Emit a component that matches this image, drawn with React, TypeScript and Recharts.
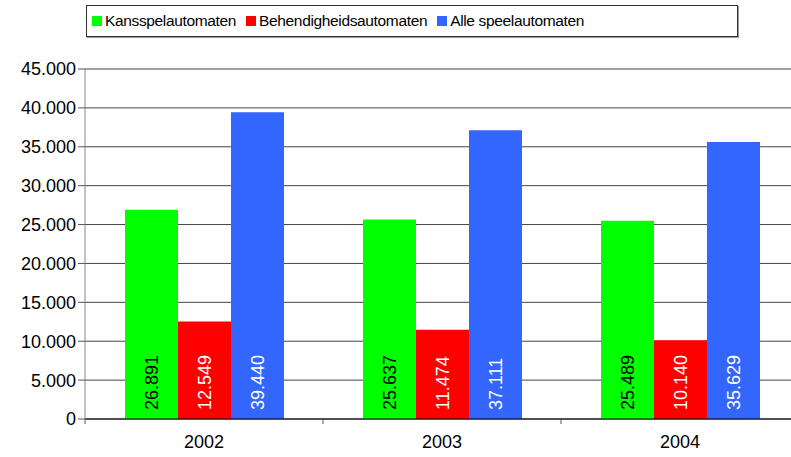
import React from "react";
import { Bar, BarChart, CartesianGrid, LabelList, XAxis, YAxis } from "recharts";

const years = ["2002", "2003", "2004"];
const kansspel = [26891, 25637, 25489];
const behendigheid = [12549, 11474, 10140];
const alle = [39440, 37111, 35629];
const yTicks = [0, 5000, 10000, 15000, 20000, 25000, 30000, 35000, 40000, 45000];

const series = [
  { key: "kansspel", name: "Kansspelautomaten", color: "#00ff00", text: "#000000" },
  { key: "behendigheid", name: "Behendigheidsautomaten", color: "#ff0000", text: "#ffffff" },
  { key: "alle", name: "Alle speelautomaten", color: "#3366ff", text: "#ffffff" },
];

const data = years.map((year, i) => ({
  year,
  kansspel: kansspel[i],
  behendigheid: behendigheid[i],
  alle: alle[i],
}));

const CHART_W = 800;
const CHART_H = 457;
const X_H = 30;
const margin = { top: 69, right: 1, bottom: 8, left: 0 };
const Y_W = 85;
const FONT = "'Liberation Sans', Arial, sans-serif";

const fmt = (v: number) => v.toLocaleString("nl-NL");

function makeLabel(color: string) {
  return (props: any) => {
    const { x, y, width, height, value } = props;
    const cx = x + width / 2;
    const by = y + height - 9;
    return (
      <text
        x={cx}
        y={by}
        transform={`rotate(-90 ${cx} ${by})`}
        fill={color}
        fontSize={18}
        fontFamily={FONT}
        textAnchor="start"
        dominantBaseline="central"
      >
        {fmt(value)}
      </text>
    );
  };
}

function CategoryTick(props: any) {
  const { x, y, payload } = props;
  const band = (CHART_W - Y_W - margin.right) / years.length;
  return (
    <g>
      <line x1={x - band / 2} x2={x - band / 2} y1={y - 8} y2={y - 3} stroke="#555" />
      <text x={x} y={y + 21} textAnchor="middle" fontSize={18} fontFamily={FONT} fill="#000">
        {payload.value}
      </text>
    </g>
  );
}

export default function App() {
  return (
    <div style={{ position: "absolute", left: 0, top: 0, width: 791, height: 457, overflow: "hidden", background: "#fff" }}>
      <div
        style={{
          position: "absolute",
          left: 86,
          top: 5,
          width: 650,
          height: 30,
          border: "1px solid #333",
          boxShadow: "1px 1px 0 #999",
          display: "flex",
          alignItems: "center",
          fontFamily: FONT,
          fontSize: 15.5,
          letterSpacing: "-0.35px",
          boxSizing: "content-box",
        }}
      >
        {series.map((s) => (
          <div key={s.key} style={{ display: "flex", alignItems: "center", marginLeft: 5, marginRight: 5 }}>
            <span style={{ display: "inline-block", width: 10, height: 10, background: s.color, marginRight: 3 }} />
            <span>{s.name}</span>
          </div>
        ))}
      </div>
      <BarChart width={CHART_W} height={CHART_H} data={data} margin={margin} barGap={0} barCategoryGap={40}>
        <CartesianGrid vertical={false} stroke="#444" />
        <XAxis
          dataKey="year"
          height={X_H}
          axisLine={{ stroke: "#000" }}
          tickLine={false}
          tick={<CategoryTick />}
          interval={0}
        />
        <YAxis
          width={Y_W}
          domain={[0, 45000]}
          ticks={yTicks}
          tickFormatter={fmt}
          axisLine={{ stroke: "#888" }}
          tickLine={{ stroke: "#555" }}
          tickSize={7}
          tick={{ fontSize: 18, fontFamily: FONT, fill: "#000" }}
        />
        {series.map((s) => (
          <Bar key={s.key} dataKey={s.key} name={s.name} fill={s.color} isAnimationActive={false}>
            <LabelList dataKey={s.key} content={makeLabel(s.text)} />
          </Bar>
        ))}
      </BarChart>
    </div>
  );
}
